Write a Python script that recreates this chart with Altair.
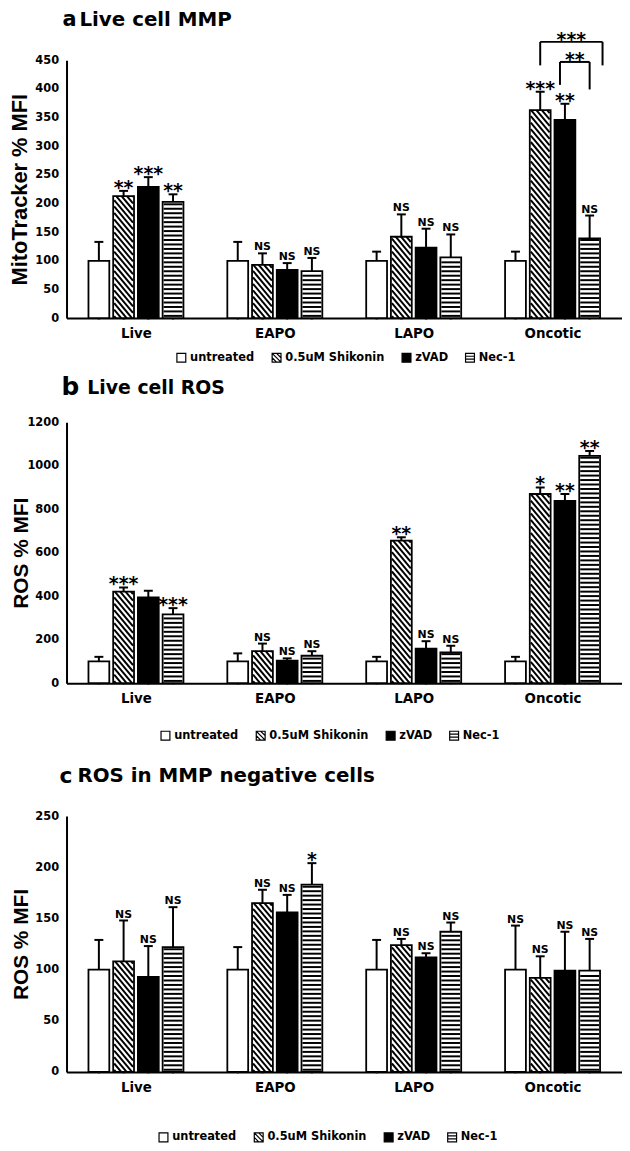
import json
import altair as alt
import pandas as pd

categories = ["Live", "EAPO", "LAPO", "Oncotic"]
groups = ["untreated", "0.5uM Shikonin", "zVAD", "Nec-1"]

# (a) Live cell MMP
mmp_untreated = [100, 100, 100, 100]
mmp_shikonin = [213, 93, 142, 363]
mmp_zvad = [229, 84, 123, 346]
mmp_nec1 = [203, 82, 106, 139]
mmp_err_untreated = [33, 33, 16, 16]
mmp_err_shikonin = [9, 20, 39, 32]
mmp_err_zvad = [17, 12, 33, 28]
mmp_err_nec1 = [13, 23, 40, 40]
mmp_sig_untreated = ["", "", "", ""]
mmp_sig_shikonin = ["**", "NS", "NS", "***"]
mmp_sig_zvad = ["***", "NS", "NS", "**"]
mmp_sig_nec1 = ["**", "NS", "NS", "NS"]
mmp_bracket_from = ["0.5uM Shikonin", "zVAD"]
mmp_bracket_to = ["Nec-1", "Nec-1"]
mmp_bracket_label = ["***", "**"]
mmp_bracket_top = [482, 447]
mmp_bracket_from_end = [441, 407]
mmp_bracket_to_end = [441, 399]

# (b) Live cell ROS
ros_untreated = [100, 100, 100, 100]
ros_shikonin = [421, 147, 656, 870]
ros_zvad = [395, 103, 159, 838]
ros_nec1 = [316, 126, 141, 1045]
ros_err_untreated = [21, 37, 21, 21]
ros_err_shikonin = [19, 35, 15, 30]
ros_err_zvad = [30, 11, 34, 32]
ros_err_nec1 = [29, 21, 31, 23]
ros_sig_untreated = ["", "", "", ""]
ros_sig_shikonin = ["***", "NS", "**", "*"]
ros_sig_zvad = ["", "NS", "NS", "**"]
ros_sig_nec1 = ["***", "NS", "NS", "**"]

# (c) ROS in MMP negative cells
neg_untreated = [100, 100, 100, 100]
neg_shikonin = [108, 165, 124, 92]
neg_zvad = [93, 156, 112, 99]
neg_nec1 = [122, 183, 137, 99]
neg_err_untreated = [29, 22, 29, 43]
neg_err_shikonin = [40, 13, 6, 21]
neg_err_zvad = [30, 17, 4, 38]
neg_err_nec1 = [39, 21, 9, 31]
neg_sig_untreated = ["", "", "", "NS"]
neg_sig_shikonin = ["NS", "NS", "NS", "NS"]
neg_sig_zvad = ["NS", "NS", "NS", "NS"]
neg_sig_nec1 = ["NS", "*", "NS", "NS"]

# ---------------- layout / style ----------------
W = 560
X_STEP = 0.178
X_HALF = 0.075
PXX = W / 4.0
CAP_PX = 4.5
HATCH_SLOPE = 1.2
HATCH_PERIOD = 6.5
STRIPE_PERIOD = 4.5
INSET_PX = 1.0
BOLD_FONT = "DejaVu Sans"
TITLE_FONT = "Liberation Sans"

legend_shapes = [
    "M-1,-1H1V1H-1Z",
    "M-1,-1H1V1H-1Z M-1,-1L1,1 M-1,0L0,1 M0,-1L1,0",
    "M-1,-1H1V1H-1Z",
    "M-1,-1H1V1H-1Z M-1,-0.33H1 M-1,0.33H1",
]
legend_fills = ["white", "white", "black", "white"]


def bar_center(i, j):
    return i + 0.5 + (j - 1.5) * X_STEP


def build(means, errs, sigs, ymax, plot_px):
    py = plot_px / ymax
    bars, lines, pattern, ns, stars, pts = [], [], [], [], [], []
    cap = CAP_PX / PXX
    for j, g in enumerate(groups):
        for i, cat in enumerate(categories):
            v, e, s = means[j][i], errs[j][i], sigs[j][i]
            c = bar_center(i, j)
            xl, xr = c - X_HALF, c + X_HALF
            bars.append(dict(group=g, category=cat, x=xl, x2=xr, y=0, y2=v))
            pts.append(dict(group=g, x=c, y=0))
            lines.append(dict(x=c, x2=c, y=v, y2=v + e))
            lines.append(dict(x=c - cap, x2=c + cap, y=v + e, y2=v + e))
            if s == "NS":
                ns.append(dict(x=c, y=v + e, label=s))
            elif s:
                stars.append(dict(x=c, y=v + e, label=s))
            w = (xr - xl) * PXX
            top = v * py
            if j == 1:
                k = HATCH_PERIOD / 2
                while k < top + HATCH_SLOPE * w:
                    u0 = max(INSET_PX, (k - top) / HATCH_SLOPE)
                    u1 = min(w - INSET_PX, k / HATCH_SLOPE)
                    if u1 - u0 > 0.3:
                        pattern.append(dict(
                            x=xl + u0 / PXX, x2=xl + u1 / PXX,
                            y=(k - HATCH_SLOPE * u0) / py,
                            y2=(k - HATCH_SLOPE * u1) / py))
                    k += HATCH_PERIOD
            if j == 3:
                k = STRIPE_PERIOD / 2
                while k < top - 1.5:
                    pattern.append(dict(x=xl + INSET_PX / PXX, x2=xr - INSET_PX / PXX,
                                        y=k / py, y2=k / py))
                    k += STRIPE_PERIOD
    return (pd.DataFrame(bars), pd.DataFrame(lines), pd.DataFrame(pattern),
            pd.DataFrame(ns), pd.DataFrame(stars), pd.DataFrame(pts))


def panel(means, errs, sigs, ymax, ystep, height, plot_px, yrange, ytitle, ytitle_size,
          letter, letter_size, letter_x, title, title_size, title_x, title_y,
          legend_x, legend_y, brackets=None):
    bars, lines, pattern, ns, stars, pts = build(means, errs, sigs, ymax, plot_px)
    if yrange is not None:
        yscale = alt.Scale(domain=[0, ymax], nice=False, zero=True, range=yrange)
    else:
        yscale = alt.Scale(domain=[0, ymax], nice=False, zero=True)
    xscale = alt.Scale(domain=[0, 4], nice=False, zero=False)
    xaxis = alt.Axis(values=[i + 0.5 for i in range(len(categories))],
                     labelExpr=json.dumps(categories) + "[floor(datum.value)]",
                     title=None, labelFontSize=13.5, labelPadding=9, labelOverlap=False)
    yaxis = alt.Axis(values=list(range(0, ymax + 1, ystep)), title=ytitle, format="d",
                     titleFont=TITLE_FONT, titleFontSize=ytitle_size, titleFontWeight="bold",
                     titlePadding=4, minExtent=31, maxExtent=31, labelFontSize=11.5,
                     labelPadding=8, labelOverlap=False)

    def X(f="x"):
        return alt.X(f"{f}:Q", scale=xscale, axis=xaxis)

    def Y(f="y"):
        return alt.Y(f"{f}:Q", scale=yscale, axis=yaxis)

    leg = alt.Legend(title=None, orient="none", legendX=legend_x, legendY=legend_y,
                     direction="horizontal", symbolSize=80, symbolStrokeColor="black",
                     symbolStrokeWidth=1.2, symbolOpacity=1, labelFont=BOLD_FONT,
                     labelFontSize=11.5, labelFontWeight="bold", labelColor="black",
                     columnPadding=14, labelOffset=3)

    legend_layer = alt.Chart(pts).mark_point(filled=True, size=4, strokeWidth=1).encode(
        x=X(), y=Y(),
        fill=alt.Fill("group:N", scale=alt.Scale(domain=groups, range=legend_fills), legend=leg),
        shape=alt.Shape("group:N", scale=alt.Scale(domain=groups, range=legend_shapes), legend=leg),
        stroke=alt.Stroke("group:N", scale=alt.Scale(domain=groups, range=["black"] * 4), legend=leg),
    )
    bar_layer = alt.Chart(bars).mark_rect(stroke="black", strokeWidth=1.8).encode(
        x=X(), x2="x2:Q", y=Y(), y2="y2:Q",
        fill=alt.condition(alt.datum.group == "zVAD", alt.value("black"), alt.value("white")),
    )
    pattern_layer = alt.Chart(pattern).mark_rule(color="black", strokeWidth=2).encode(
        x=X(), x2="x2:Q", y=Y(), y2="y2:Q")
    err_layer = alt.Chart(lines).mark_rule(color="black", strokeWidth=2).encode(
        x=X(), x2="x2:Q", y=Y(), y2="y2:Q")
    ns_layer = alt.Chart(ns).mark_text(font=BOLD_FONT, fontWeight="bold", fontSize=11,
                                       baseline="alphabetic", dy=-3, color="black").encode(
        x=X(), y=Y(), text="label:N")
    star_layer = alt.Chart(stars).mark_text(font=BOLD_FONT, fontWeight="bold", fontSize=19,
                                            baseline="alphabetic", dy=3, color="black").encode(
        x=X(), y=Y(), text="label:N")
    one = pd.DataFrame({"k": [0]})
    letter_layer = alt.Chart(one).mark_text(text=letter, font=BOLD_FONT, fontWeight="bold",
                                            fontSize=letter_size, align="left",
                                            baseline="middle", color="black").encode(
        x=alt.value(letter_x), y=alt.value(title_y))
    title_layer = alt.Chart(one).mark_text(text=title, font=BOLD_FONT, fontWeight="bold",
                                           fontSize=title_size, align="left",
                                           baseline="middle", color="black").encode(
        x=alt.value(title_x), y=alt.value(title_y))
    layers = [legend_layer, bar_layer, pattern_layer, err_layer, ns_layer, star_layer,
              letter_layer, title_layer]
    if brackets is not None:
        segs, labs = [], []
        gi = {g: j for j, g in enumerate(groups)}
        ci = categories.index("Oncotic")
        for n, (ga, gb, lab, top, ea, eb) in enumerate(zip(*brackets)):
            xa = bar_center(ci, gi[ga])
            xb = bar_center(ci, gi[gb])
            if n == 0:
                xb += 13 / PXX
            else:
                xa -= 5 / PXX
            segs.append(dict(x=xa, x2=xa, y=ea, y2=top))
            segs.append(dict(x=xa, x2=xb, y=top, y2=top))
            segs.append(dict(x=xb, x2=xb, y=eb, y2=top))
            labs.append(dict(x=(xa + xb) / 2, y=top, label=lab))
        layers.append(alt.Chart(pd.DataFrame(segs)).mark_rule(color="black", strokeWidth=2).encode(
            x=X(), x2="x2:Q", y=Y(), y2="y2:Q"))
        layers.append(alt.Chart(pd.DataFrame(labs)).mark_text(
            font=BOLD_FONT, fontWeight="bold", fontSize=19, baseline="alphabetic", dy=4,
            color="black").encode(x=X(), y=Y(), text="label:N"))
    return alt.layer(*layers).properties(width=W, height=height)


pa = panel([mmp_untreated, mmp_shikonin, mmp_zvad, mmp_nec1],
           [mmp_err_untreated, mmp_err_shikonin, mmp_err_zvad, mmp_err_nec1],
           [mmp_sig_untreated, mmp_sig_shikonin, mmp_sig_zvad, mmp_sig_nec1],
           450, 50, 260, 260, None, "MitoTracker % MFI", 22,
           "a", 21, -4, "Live cell MMP", 20, 13, -40, 110, 294,
           brackets=(mmp_bracket_from, mmp_bracket_to, mmp_bracket_label, mmp_bracket_top,
                     mmp_bracket_from_end, mmp_bracket_to_end))
pb = panel([ros_untreated, ros_shikonin, ros_zvad, ros_nec1],
           [ros_err_untreated, ros_err_shikonin, ros_err_zvad, ros_err_nec1],
           [ros_sig_untreated, ros_sig_shikonin, ros_sig_zvad, ros_sig_nec1],
           1200, 200, 263, 263, None, "ROS % MFI", 21,
           "b", 25, -5, "Live cell ROS", 19, 21, -35, 94, 310)
pc = panel([neg_untreated, neg_shikonin, neg_zvad, neg_nec1],
           [neg_err_untreated, neg_err_shikonin, neg_err_zvad, neg_err_nec1],
           [neg_sig_untreated, neg_sig_shikonin, neg_sig_zvad, neg_sig_nec1],
           250, 50, 287, 258, [287, 29], "ROS % MFI", 21,
           "c", 22, -7, "ROS in MMP negative cells", 20, 11, -11, 92, 347)

chart = alt.vconcat(pa, pb, pc, spacing=105, bounds="flush").resolve_scale(
    x="independent", y="independent", fill="independent", shape="independent",
    stroke="independent"
).resolve_legend(fill="independent", shape="independent", stroke="independent").properties(
    padding={"left": 1, "top": -3, "right": 0, "bottom": 0}, background="white"
).configure_view(stroke=None).configure_axis(
    grid=False, ticks=False, domainColor="black", domainWidth=2, labelColor="black",
    labelFont=BOLD_FONT, labelFontWeight="bold", titleColor="black"
)

chart.save("out.html", embed_options={"renderer": "svg", "actions": False})
